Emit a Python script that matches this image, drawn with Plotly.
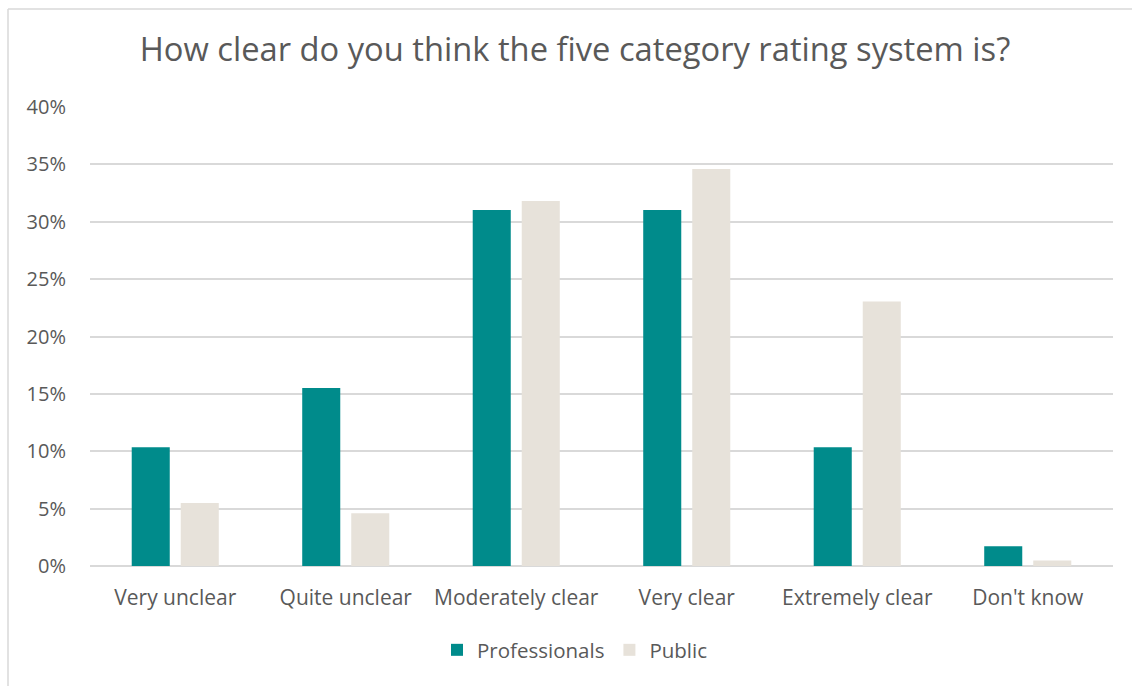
import plotly.graph_objects as go

categories = ["Very unclear", "Quite unclear", "Moderately clear", "Very clear", "Extremely clear", "Don't know"]
professionals = [10.34, 15.52, 31.03, 31.03, 10.34, 1.72]
public = [5.5, 4.6, 31.8, 34.6, 23.05, 0.47]
y_ticks = [0, 5, 10, 15, 20, 25, 30, 35, 40]
y_tick_labels = [f"{v}%" for v in y_ticks]
title_text = "How clear do you think the five category rating system is?"

FONT = "Open Sans, sans-serif"
GREY = "#595959"

fig = go.Figure()
fig.add_trace(go.Bar(name="Professionals", x=categories, y=professionals,
                     marker=dict(color="#008B8B", line=dict(width=0))))
fig.add_trace(go.Bar(name="Public", x=categories, y=public,
                     marker=dict(color="#E7E2DA", line=dict(width=0))))

L, R, T, B = 90, 19, 107, 120
W, H = 1132, 686
pw, ph = W - L - R, H - T - B

def px_x(x):
    return (x - L) / pw

def px_y(y):
    return (H - B - y) / ph

fig.update_layout(
    width=W, height=H,
    margin=dict(l=L, r=R, t=T, b=B, autoexpand=False),
    paper_bgcolor="white", plot_bgcolor="white",
    barmode="group", bargap=0.425, bargroupgap=0.224,
    font=dict(family=FONT, color=GREY, size=20),
    title=dict(text=title_text, x=575 / W, xanchor="center", xref="container",
               y=1 - 50 / H, yanchor="middle", yref="container",
               font=dict(family=FONT, size=32.7, color=GREY)),
    legend=dict(orientation="h", x=575 / W, xanchor="center", xref="container",
                y=px_y(650), yanchor="middle",
                font=dict(family=FONT, size=20.5, color=GREY), itemwidth=30,
                traceorder="normal"),
    xaxis=dict(showgrid=False, showline=False, ticks="", ticklabelstandoff=17,
               tickfont=dict(size=21, color=GREY)),
    yaxis=dict(range=[0, 40], tickvals=y_ticks, ticktext=y_tick_labels, showgrid=True,
               gridcolor="#D9D9D9", gridwidth=1.5, zeroline=True, zerolinecolor="#D9D9D9",
               zerolinewidth=1.5, showline=False, ticks="", ticklabelstandoff=23,
               tickfont=dict(size=20, color=GREY)),
    shapes=[
        dict(type="line", xref="paper", yref="paper", x0=px_x(8), x1=px_x(8),
             y0=px_y(9), y1=px_y(700), line=dict(color="#D9D9D9", width=1.5)),
        dict(type="line", xref="paper", yref="paper", x0=px_x(8), x1=px_x(1140),
             y0=px_y(9), y1=px_y(9), line=dict(color="#D9D9D9", width=1.5)),
    ],
)

fig.write_html("out.html", config={"displayModeBar": False},
               post_script="document.body.style.margin='0';")
